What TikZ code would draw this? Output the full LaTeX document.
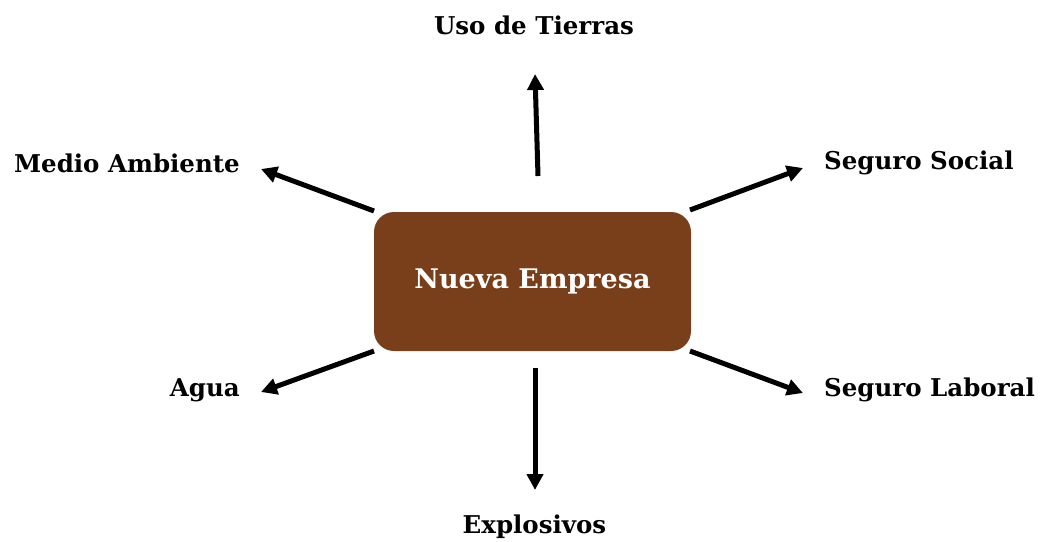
\documentclass[tikz,border=0pt]{standalone}
\usepackage{fontspec}
\setmainfont{DejaVu Serif}
\usetikzlibrary{arrows.meta}
\definecolor{boxbrown}{HTML}{793F1A}
\tikzset{
  lbl/.style={font=\bfseries\fontsize{24.5}{29}\selectfont, text=black, inner sep=0pt},
  conn/.style={line width=5pt, -{Triangle[length=16pt,width=16pt]}},
  centerbox/.style={fill=boxbrown, draw=none, rounded corners=20pt, minimum width=317pt, minimum height=139pt, text=white, font=\bfseries\fontsize{27}{32}\selectfont}
}
\begin{document}
\begin{tikzpicture}[x=1pt,y=-1pt]
\useasboundingbox (0,0) rectangle (1046,541);
\node[centerbox] (c) at (532.5,281.5) {Nueva Empresa};
\node[lbl] (uso) at (534,25) {Uso de Tierras};
\node[lbl, anchor=east] (med) at (240,163) {Medio Ambiente};
\node[lbl, anchor=west] (ss) at (824,163) {Seguro Social};
\node[lbl, anchor=east] (agua) at (240,390) {Agua};
\node[lbl, anchor=west] (sl) at (824,390) {Seguro Laboral};
\node[lbl] (exp) at (534.5,527) {Explosivos};
\coordinate (u1) at (538,176); \coordinate (u2) at (535,74);
\coordinate (m1) at (374,211); \coordinate (m2) at (261,169);
\coordinate (s1) at (690,210); \coordinate (s2) at (803,168);
\coordinate (a1) at (374,351); \coordinate (a2) at (261,392);
\coordinate (l1) at (690,351); \coordinate (l2) at (803,393);
\coordinate (e1) at (535,368); \coordinate (e2) at (535,490);
\draw[conn] (u1) -- (u2);
\draw[conn] (m1) -- (m2);
\draw[conn] (s1) -- (s2);
\draw[conn] (a1) -- (a2);
\draw[conn] (l1) -- (l2);
\draw[conn] (e1) -- (e2);
\end{tikzpicture}
\end{document}
